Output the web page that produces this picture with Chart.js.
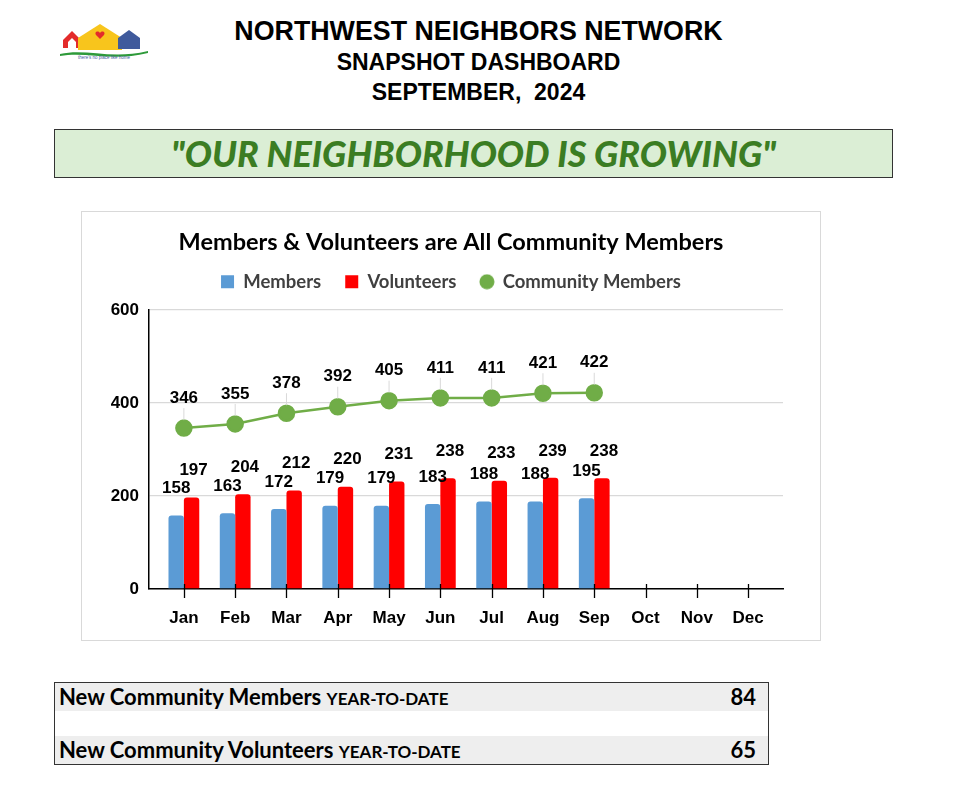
<!DOCTYPE html>
<html>
<head>
<meta charset="utf-8">
<script src="https://cdn.jsdelivr.net/npm/chart.js@4.4.0/dist/chart.umd.min.js"></script>
<style>
  body { margin: 0; background: #fff; width: 957px; height: 789px; position: relative; overflow: hidden; }
  .hdr { position: absolute; left: 0; width: 957px; text-align: center; font-family: "Liberation Sans", Arial, sans-serif; font-weight: bold; color: #000; }
  #banner { position: absolute; left: 54px; top: 129px; width: 837px; height: 47px; background: #dbeed5; border: 1.5px solid #333; text-align: center; font-family: Lato, sans-serif; font-weight: 900; font-style: italic; color: #3b7d23; font-size: 36px; line-height: 47px; }
  #box { position: absolute; left: 81px; top: 211px; width: 738px; height: 428px; border: 1px solid #d9d9d9; }
  #tbl { position: absolute; left: 54px; top: 682px; width: 713px; border: 1.5px solid #333; font-family: Lato, sans-serif; font-weight: bold; color: #000; }
  .row { height: 28px; line-height: 28px; padding: 0 12px 0 4px; font-size: 22px; position: relative; }
  .row .sm { font-size: 17px; }
  .row .num { position: absolute; right: 12px; top: 0; }
</style>
</head>
<body>
<svg style="position:absolute;left:56px;top:18px" width="100" height="46" viewBox="0 0 100 46">
  <polygon points="7,22 16,13 25,22 25,30 7,30" fill="#e32b2b"/>
  <polygon points="12,24 16,20 20,24 20,30 12,30" fill="#fff"/>
  <polygon points="22,20 44,6 66,20 66,32 22,32" fill="#f8c51c"/>
  <path d="M44,15 c-2,-3 -6,-1 -4,2 l4,4 l4,-4 c2,-3 -2,-5 -4,-2z" fill="#e32b2b"/>
  <polygon points="62,20 73,12 84,20 84,31 62,31" fill="#3f5a9c"/>
  <path d="M4,36 C30,30 55,42 92,33 L92,35 C55,44 30,33 4,38z" fill="#2e9a3a"/>
  <text x="48" y="41" font-size="4.5" text-anchor="middle" fill="#3f5a9c" font-family="Liberation Sans">there's no place like home</text>
</svg>
<div class="hdr" style="top:16px;font-size:26.8px;">NORTHWEST NEIGHBORS NETWORK</div>
<div class="hdr" style="top:49px;font-size:23px;">SNAPSHOT DASHBOARD</div>
<div class="hdr" style="top:79px;font-size:23px;">SEPTEMBER,&nbsp; 2024</div>
<div id="banner">"OUR NEIGHBORHOOD IS GROWING"</div>
<div id="box"><canvas id="chart"></canvas></div>
<div id="tbl">
  <div class="row" style="background:#eeeeee">New Community Members <span class="sm">YEAR-TO-DATE</span><span class="num">84</span></div>
  <div class="row" style="background:#fff;height:25px"></div>
  <div class="row" style="background:#eeeeee">New Community Volunteers <span class="sm">YEAR-TO-DATE</span><span class="num">65</span></div>
</div>
<script>
// === Données ===
const mois = ["Jan", "Feb", "Mar", "Apr", "May", "Jun", "Jul", "Aug", "Sep", "Oct", "Nov", "Dec"];
const members = [158, 163, 172, 179, 179, 183, 188, 188, 195];
const volunteers = [197, 204, 212, 220, 231, 238, 233, 239, 238];
const community = [346, 355, 378, 392, 405, 411, 411, 421, 422];
const yTicks = [0, 200, 400, 600];
const ordreLegende = ["Members", "Volunteers", "Community Members"];

// === Pastille ronde de la légende ===
const rond = document.createElement("canvas");
rond.width = 16; rond.height = 16;
const rc = rond.getContext("2d");
rc.fillStyle = "#70ad47";
rc.beginPath(); rc.arc(8, 8, 7.5, 0, Math.PI * 2); rc.fill();

// === Étiquettes de valeurs + traits de l'axe des mois ===
const etiquettes = {
  id: "etiquettes",
  afterDatasetsDraw(chart) {
    const c = chart.ctx;
    c.save();
    c.font = "bold 17px 'Liberation Sans', Arial";
    c.fillStyle = "#000";
    c.textAlign = "center";
    c.textBaseline = "middle";
    chart.data.datasets.forEach((ds, i) => {
      const meta = chart.getDatasetMeta(i);
      meta.data.forEach((el, j) => {
        const v = ds.data[j];
        if (v == null) return;
        if (ds.type === "line") {
          c.strokeStyle = "#d9d9d9";
          c.lineWidth = 1;
          c.beginPath();
          c.moveTo(el.x, el.y - 20);
          c.lineTo(el.x, el.y - 8);
          c.stroke();
          c.fillText(v, el.x, el.y - 30);
        } else {
          c.fillText(v, el.x + (i === 2 ? 2 : 0), el.y - 27);
        }
      });
    });
    c.restore();
  },
  afterDraw(chart) {
    const sx = chart.scales.x;
    const c = chart.ctx;
    c.save();
    c.strokeStyle = "#000";
    c.lineWidth = 1.3;
    sx.ticks.forEach((t, i) => {
      const px = Math.round(sx.getPixelForTick(i)) + 0.5;
      c.beginPath();
      c.moveTo(px, sx.top - 5);
      c.lineTo(px, sx.top + 9);
      c.stroke();
    });
    c.restore();
  }
};

const ctx = document.getElementById("chart").getContext("2d");
new Chart(ctx, {
  data: {
    labels: mois,
    datasets: [
      { type: "line", label: "Community Members", data: community, borderColor: "#70ad47", backgroundColor: "#70ad47",
        borderWidth: 2.5, pointRadius: 7.5, pointHoverRadius: 7.5, pointStyle: "circle", order: 0 },
      { type: "bar", label: "Members", data: members, backgroundColor: "#5b9bd5", pointStyle: "rect",
        borderRadius: { topLeft: 3, topRight: 3 }, borderSkipped: "bottom", order: 1 },
      { type: "bar", label: "Volunteers", data: volunteers, backgroundColor: "#ff0000", pointStyle: "rect",
        borderRadius: { topLeft: 3, topRight: 3 }, borderSkipped: "bottom", order: 1 }
    ]
  },
  options: {
    responsive: true,
    maintainAspectRatio: false,
    animation: false,
    datasets: { bar: { categoryPercentage: 0.6, barPercentage: 1 } },
    layout: { padding: { top: 19, right: 0, left: 0, bottom: 0 } },
    plugins: {
      title: { display: true, text: "Members & Volunteers are All Community Members",
        font: { family: "Lato", size: 23.5, weight: "bold", lineHeight: 1 }, color: "#000", padding: { top: 0, bottom: -6 } },
      legend: {
        labels: {
          usePointStyle: true, boxWidth: 13, boxHeight: 13, padding: 24,
          font: { family: "Lato", size: 18.5, weight: "bold" }, color: "#404040",
          generateLabels: (chart) => {
            const items = Chart.defaults.plugins.legend.labels.generateLabels(chart);
            items.forEach(it => { if (it.text === "Community Members") it.pointStyle = rond; });
            return items.sort((a, b) => ordreLegende.indexOf(a.text) - ordreLegende.indexOf(b.text));
          }
        }
      },
      tooltip: { enabled: false }
    },
    scales: {
      x: {
        offset: true,
        afterUpdate: (s) => { s._startValue = -0.68; s._valueRange = mois.length - 1 + 1.36; },
        afterFit: (s) => { s.height = 51; },
        grid: { offset: false, drawOnChartArea: false, drawTicks: false, color: "#000" },
        border: { color: "#000", width: 1.5 },
        ticks: { color: "#000", font: { family: "Liberation Sans", size: 17, weight: "bold" }, padding: 19 }
      },
      y: {
        min: 0, max: 600,
        afterBuildTicks: (s) => { s.ticks = yTicks.map(v => ({ value: v })); },
        afterFit: (s) => { s.width = 67; },
        grid: { color: "#d9d9d9", drawTicks: false, lineWidth: 1.3 },
        border: { color: "#000", width: 1.5 },
        ticks: { color: "#000", font: { family: "Liberation Sans", size: 17, weight: "bold" }, padding: 10 }
      },
      marge: {
        type: "linear", position: "right", display: true,
        afterFit: (s) => { s.width = 37; },
        grid: { display: false }, border: { display: false }, ticks: { display: false }
      },
      haut: {
        type: "linear", position: "top", display: true,
        afterFit: (s) => { s.height = 9; },
        grid: { display: false }, border: { display: false }, ticks: { display: false }
      }
    }
  },
  plugins: [etiquettes]
});
</script>
</body>
</html>
